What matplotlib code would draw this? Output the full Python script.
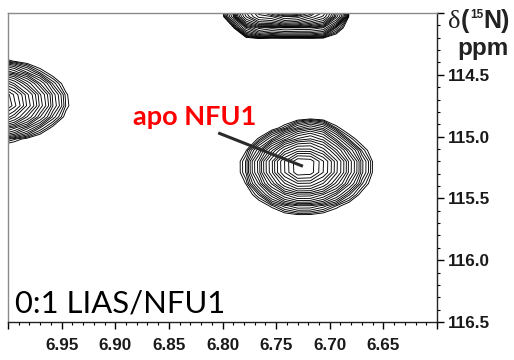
import numpy as np
import matplotlib
matplotlib.use("Agg")
import matplotlib.pyplot as plt

# 1H / 15N peak list (ppm) for the apo NFU1 region of the HSQC spectrum
peak_h = [6.725, 6.738, 6.767, 6.711, 7.025, 6.716]
peak_n = [115.24, 113.75, 113.95, 113.95, 114.72, 114.99]
peak_amp = [1.0, 15.0, 0.8, 0.7, 1.5, 0.07]
# line widths (ppm): toward higher 1H, toward lower 1H, toward lower 15N, toward higher 15N
width_h_hi = [0.0143, 0.012, 0.011, 0.011, 0.019, 0.013]
width_h_lo = [0.0160, 0.012, 0.011, 0.011, 0.019, 0.013]
width_n_lo = [0.081, 0.12, 0.09, 0.09, 0.083, 0.06]
width_n_hi = [0.095, 0.12, 0.09, 0.09, 0.079, 0.06]
# line-shape exponent (2 = Gaussian)
peak_shape = [1.5, 2.0, 2.0, 2.0, 1.5, 2.0]

x_ticks = [7.00, 6.95, 6.90, 6.85, 6.80, 6.75, 6.70, 6.65, 6.60]
x_labels = ["", "6.95", "6.90", "6.85", "6.80", "6.75", "6.70", "6.65", ""]
y_ticks = [114.0, 114.5, 115.0, 115.5, 116.0, 116.5]
y_labels = ["", "114.5", "115.0", "115.5", "116.0", "116.5"]

label_start = (6.804, 114.97)
annot_text = "apo NFU1"
sample_text = "0:1 LIAS/NFU1"

# spectrum digitised on the acquisition grid
h = np.arange(6.55, 7.10, 0.012)
n = np.arange(113.4, 116.7, 0.09)
H, N = np.meshgrid(h, n)
Z = np.zeros_like(H)
for i in range(len(peak_h)):
    dh = H - peak_h[i]
    dn = N - peak_n[i]
    sh = np.where(dh > 0, width_h_hi[i], width_h_lo[i])
    sn = np.where(dn < 0, width_n_lo[i], width_n_hi[i])
    q = (dh / sh) ** 2 + (dn / sn) ** 2
    Z += peak_amp[i] * np.exp(-0.5 * q ** (peak_shape[i] / 2))

base = 0.018
levels = base * 1.2 ** np.arange(0, 45)

fig = plt.figure(figsize=(5.14, 3.60), dpi=100)
ax = fig.add_axes([8 / 514, 1 - 322 / 360, (437 - 8) / 514, (322 - 13) / 360])
ax.contour(H, N, Z, levels=levels, colors="black", linewidths=0.65)

ax.set_xlim(7.00, 6.60)
ax.set_ylim(116.5, 114.0)

ax.yaxis.tick_right()
ax.set_xticks(x_ticks)
ax.set_xticklabels(x_labels)
ax.set_yticks(y_ticks)
ax.set_yticklabels(y_labels)
ax.set_xticks(np.round(np.arange(6.60, 7.001, 0.01), 2), minor=True)
ax.set_yticks(np.round(np.arange(114.0, 116.51, 0.1), 1), minor=True)
ax.tick_params(which="major", direction="out", length=5, width=1,
               labelsize=12.3, colors="black")
ax.tick_params(axis="x", which="major", pad=6.5)
ax.tick_params(axis="y", which="major", pad=3)
ax.tick_params(which="minor", direction="out", length=2.5, width=0.8)
for lab in ax.get_xticklabels() + ax.get_yticklabels():
    lab.set_fontfamily("Liberation Sans")
    lab.set_fontweight("bold")
    lab.set_color("#1a1a1a")
ax.tick_params(axis="x", which="both", top=False)
ax.tick_params(axis="y", which="both", left=False, right=True)

for side in ("left", "top"):
    ax.spines[side].set_color("#8a8a8a")
for side in ("right", "bottom"):
    ax.spines[side].set_color("#222222")
for s in ax.spines.values():
    s.set_linewidth(1.0)

# annotation for the apo NFU1 cross peak
ax.plot([label_start[0], peak_h[0]], [label_start[1], peak_n[0]],
        color="#2b2b2b", lw=2.2, solid_capstyle="butt")
ax.text(6.8836, 114.91, annot_text, color="#ff0000", fontsize=19.5,
        fontweight="bold", family="Lato", ha="left", va="baseline")

ax.text(0.016, 0.032, sample_text, transform=ax.transAxes, fontsize=22.3,
        family="Lato", color="black", ha="left", va="baseline")

# 15N axis title, laid out piece by piece
fig.canvas.draw()
renderer = fig.canvas.get_renderer()
title_parts = [
    ("δ", dict(family="Liberation Serif", fontsize=19), 0),
    ("(", dict(family="Liberation Sans", fontweight="bold", fontsize=18), 0),
    ("15", dict(family="Liberation Sans", fontweight="bold", fontsize=8.5), 10),
    ("N)", dict(family="Liberation Sans", fontweight="bold", fontsize=18), 0),
]
x_px = 448.0
base_px = 28.0
for txt, props, rise in title_parts:
    t = fig.text(x_px / 514, 1 - (base_px - rise) / 360, txt, color="#222222",
                 va="baseline", ha="left", **props)
    bb = t.get_window_extent(renderer)
    x_px += bb.width + 0.5
fig.text(457 / 514, 1 - 55 / 360, "ppm", family="Liberation Sans",
         fontweight="bold", fontsize=17.5, color="#222222",
         va="baseline", ha="left")

fig.savefig("out.png", dpi=100)
